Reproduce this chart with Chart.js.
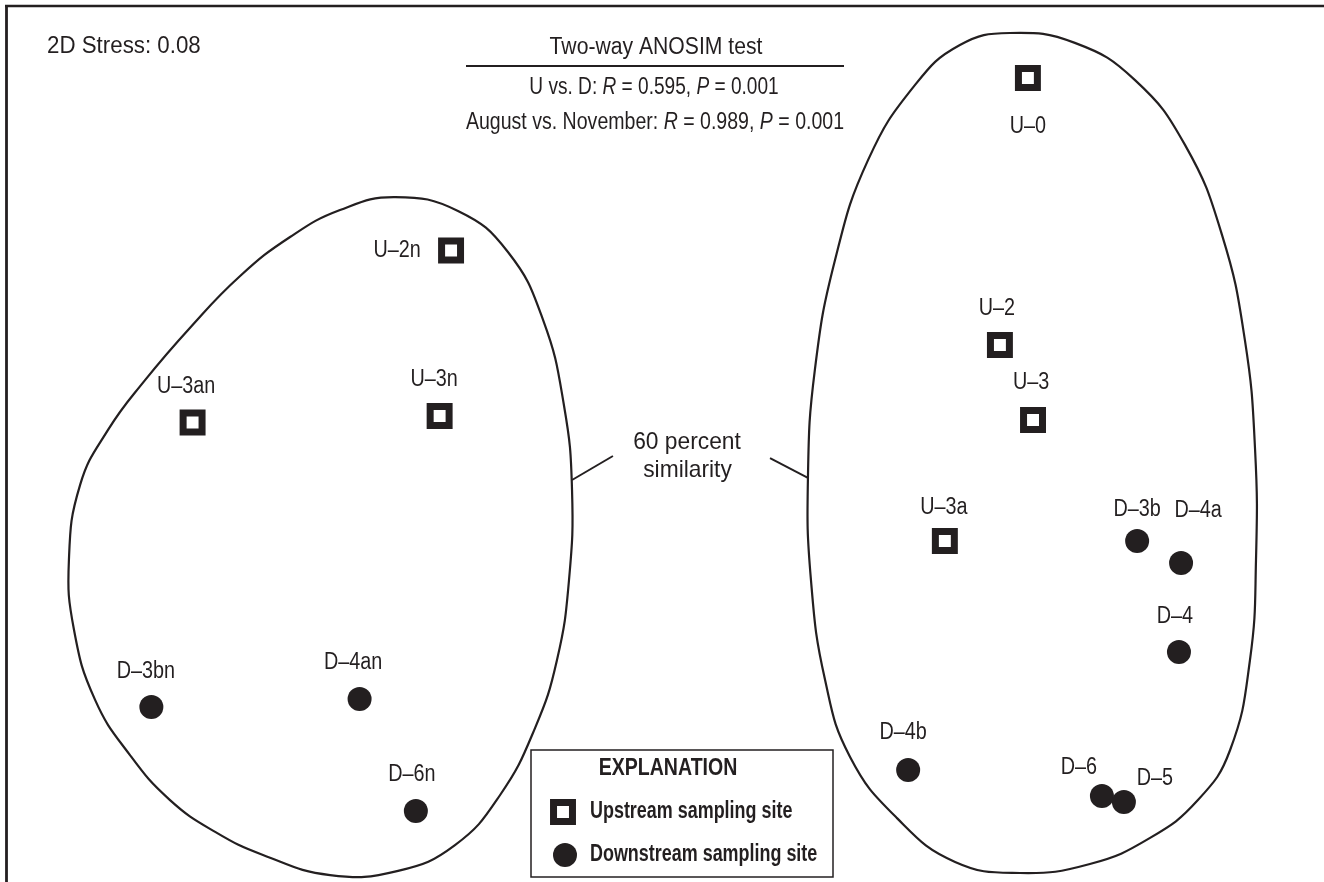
<!DOCTYPE html>
<html>
<head>
<meta charset="utf-8">
<script src="https://cdn.jsdelivr.net/npm/chart.js@4/dist/chart.umd.min.js"></script>
<style>
  html, body { margin: 0; padding: 0; background: #fff; }
  canvas { display: block; }
</style>
</head>
<body>
<canvas id="nmds" width="1324" height="882"></canvas>
<script>
// NMDS ordination of sampling sites (unitless axes)
const upstreamSites = ['U–0', 'U–2', 'U–3', 'U–3a', 'U–2n', 'U–3n', 'U–3an'];
const upstreamX = [1.216, 1.123, 1.233, 0.940, -0.701, -0.739, -1.560];
const upstreamY = [1.210, 0.320, 0.070, -0.333, 0.635, 0.083, 0.062];

const downstreamSites = ['D–3b', 'D–4a', 'D–4', 'D–4b', 'D–6', 'D–5', 'D–3bn', 'D–4an', 'D–6n'];
const downstreamX = [1.579, 1.725, 1.718, 0.818, 1.462, 1.535, -1.697, -1.005, -0.818];
const downstreamY = [-0.333, -0.407, -0.703, -1.097, -1.183, -1.203, -0.887, -0.860, -1.233];

// 60 percent similarity contours (November group, August group)
const novemberHullX = [-0.887, -0.678, -0.512, -0.395, -0.326, -0.299, -0.309, -0.349, -0.422, -0.538, -0.688, -0.877, -1.103, -1.326, -1.485, -1.635, -1.768, -1.884, -1.954, -1.971, -1.934, -1.841, -1.718, -1.569, -1.402, -1.236, -1.070];
const novemberHullY = [0.813, 0.767, 0.630, 0.403, 0.120, -0.163, -0.463, -0.730, -0.957, -1.180, -1.347, -1.433, -1.447, -1.380, -1.303, -1.197, -1.047, -0.863, -0.630, -0.397, -0.147, 0.037, 0.203, 0.377, 0.550, 0.680, 0.770];
const augustHullX = [1.156, 1.372, 1.572, 1.738, 1.861, 1.937, 1.971, 1.974, 1.954, 1.888, 1.781, 1.622, 1.422, 1.190, 0.974, 0.781, 0.625, 0.542, 0.495, 0.485, 0.508, 0.575, 0.685, 0.841, 0.990];
const augustHullY = [1.360, 1.327, 1.203, 0.987, 0.687, 0.337, -0.030, -0.397, -0.730, -1.030, -1.197, -1.323, -1.410, -1.440, -1.403, -1.257, -1.053, -0.797, -0.463, -0.123, 0.237, 0.603, 0.937, 1.187, 1.320];

// leader lines from the "60 percent similarity" note to each contour
const leaderLeftX = [-0.299, -0.163];
const leaderLeftY = [-0.130, -0.050];
const leaderRightX = [0.359, 0.485];
const leaderRightY = [-0.057, -0.123];

const INK = '#231f20';
const FONT = '"Liberation Sans", Arial, sans-serif';

// label placement around each marker, in pixels
const labelPlacement = {
  'U–0': [0, 49], 'U–2': [-3, -36], 'U–3': [-2, -37], 'U–3a': [-1, -33],
  'U–2n': [-54, 0], 'U–3n': [-5.5, -36], 'U–3an': [-6.5, -36],
  'D–3b': [0, -31], 'D–4a': [17, -52], 'D–4': [-4, -35], 'D–4b': [-5, -37],
  'D–6': [-23, -28], 'D–5': [31, -23], 'D–3bn': [-5.5, -35], 'D–4an': [-6.5, -36], 'D–6n': [-4, -36]
};

const zip = (xs, ys) => xs.map((x, i) => ({ x, y: ys[i] }));

// draws a line of text made of styled runs, horizontally condensed by sx
function drawRuns(ctx, runs, x, y, size, sx, align) {
  ctx.save();
  const widths = runs.map(([t, st]) => {
    ctx.font = `${st}${size}px ${FONT}`;
    return ctx.measureText(t).width;
  });
  const total = widths.reduce((a, b) => a + b, 0);
  ctx.translate(x, y);
  ctx.scale(sx, 1);
  let cx = align === 'left' ? 0 : -total / 2;
  ctx.textAlign = 'left';
  ctx.textBaseline = 'middle';
  ctx.fillStyle = INK;
  runs.forEach(([t, st], i) => {
    ctx.font = `${st}${size}px ${FONT}`;
    ctx.fillText(t, cx, 0);
    cx += widths[i];
  });
  ctx.restore();
}

function strokeLine(ctx, x1, y1, x2, y2, w) {
  ctx.save();
  ctx.strokeStyle = INK;
  ctx.lineWidth = w;
  ctx.beginPath();
  ctx.moveTo(x1, y1);
  ctx.lineTo(x2, y2);
  ctx.stroke();
  ctx.restore();
}

// turns the contour datasets into smooth closed loops
const closedOutline = {
  id: 'closedOutline',
  afterDatasetsUpdate(chart) {
    chart.data.datasets.forEach((ds, i) => {
      if (!ds.closedLoop) return;
      const line = chart.getDatasetMeta(i).dataset;
      if (!line) return;
      line._loop = true;
      line._fullLoop = true;
      line.points = line.points;
      line.updateControlPoints(chart.chartArea, 'x');
    });
  }
};

const pageDecor = {
  id: 'pageDecor',
  beforeDraw(chart) {
    const ctx = chart.ctx;
    ctx.save();
    ctx.fillStyle = '#fff';
    ctx.fillRect(0, 0, chart.width, chart.height);
    ctx.restore();
    // frame
    strokeLine(ctx, 5, 6, chart.width, 6, 2.6);
    strokeLine(ctx, 6.5, 5, 6.5, chart.height, 2.8);
  },
  afterDatasetsDraw(chart) {
    const ctx = chart.ctx;
    // site labels
    chart.data.datasets.forEach((ds, i) => {
      if (!ds.siteNames) return;
      chart.getDatasetMeta(i).data.forEach((el, j) => {
        const name = ds.siteNames[j];
        const [dx, dy] = labelPlacement[name] || [0, -34];
        drawRuns(ctx, [[name, '']], el.x + dx, el.y + dy, 23, 0.86, 'center');
      });
    });

    drawRuns(ctx, [['2D Stress: 0.08', '']], 47, 47, 23, 0.97, 'left');

    drawRuns(ctx, [['Two-way ANOSIM test', '']], 656, 48, 23, 0.92, 'center');
    strokeLine(ctx, 466, 66, 844, 66, 2);
    drawRuns(ctx, [['U vs. D: ', ''], ['R', 'italic '], [' = 0.595, ', ''], ['P', 'italic '], [' = 0.001', '']],
      654, 88, 23, 0.83, 'center');
    drawRuns(ctx, [['August vs. November: ', ''], ['R', 'italic '], [' = 0.989, ', ''], ['P', 'italic '], [' = 0.001', '']],
      655, 123, 23, 0.85, 'center');

    drawRuns(ctx, [['60 percent', '']], 687, 442, 24, 0.95, 'center');
    drawRuns(ctx, [['similarity', '']], 687.5, 470, 24, 0.95, 'center');

    // explanation box
    ctx.save();
    ctx.strokeStyle = INK;
    ctx.lineWidth = 1.5;
    ctx.fillStyle = '#fff';
    ctx.fillRect(531, 750, 302, 127);
    ctx.strokeRect(531, 750, 302, 127);
    ctx.restore();
    drawRuns(ctx, [['EXPLANATION', 'bold ']], 668, 769, 23, 0.85, 'center');

    const up = chart.data.datasets[0];
    const down = chart.data.datasets[1];
    ctx.save();
    ctx.fillStyle = up.pointBackgroundColor;
    ctx.strokeStyle = up.pointBorderColor;
    ctx.lineWidth = up.pointBorderWidth;
    Chart.helpers.drawPoint(ctx, { pointStyle: 'rect', radius: up.pointRadius, rotation: 0, borderWidth: up.pointBorderWidth }, 563, 812);
    ctx.fillStyle = down.pointBackgroundColor;
    ctx.lineWidth = 0;
    Chart.helpers.drawPoint(ctx, { pointStyle: 'circle', radius: down.pointRadius, rotation: 0, borderWidth: 0 }, 565, 855);
    ctx.restore();
    drawRuns(ctx, [['Upstream sampling site', 'bold ']], 590, 812, 23, 0.78, 'left');
    drawRuns(ctx, [['Downstream sampling site', 'bold ']], 590, 855, 23, 0.78, 'left');
  }
};

const outlineStyle = {
  showLine: true, pointRadius: 0, borderColor: INK, borderWidth: 2.2,
  fill: false, spanGaps: true, tension: 0.45
};

new Chart(document.getElementById('nmds'), {
  type: 'scatter',
  data: {
    datasets: [
      {
        label: 'Upstream sampling site',
        siteNames: upstreamSites,
        data: zip(upstreamX, upstreamY),
        pointStyle: 'rect',
        pointRadius: 13.4,
        pointBorderWidth: 7,
        pointBackgroundColor: '#ffffff',
        pointBorderColor: INK,
        order: 0
      },
      {
        label: 'Downstream sampling site',
        siteNames: downstreamSites,
        data: zip(downstreamX, downstreamY),
        pointStyle: 'circle',
        pointRadius: 12,
        pointBorderWidth: 0,
        pointBackgroundColor: INK,
        pointBorderColor: INK,
        order: 1
      },
      Object.assign({ label: 'November', closedLoop: true, data: zip(novemberHullX, novemberHullY), order: 5 }, outlineStyle),
      Object.assign({ label: 'August', closedLoop: true, data: zip(augustHullX, augustHullY), order: 5 }, outlineStyle),
      { label: 'leader', data: zip(leaderLeftX, leaderLeftY), showLine: true, tension: 0, pointRadius: 0, borderColor: INK, borderWidth: 2, order: 6 },
      { label: 'leader', data: zip(leaderRightX, leaderRightY), showLine: true, tension: 0, pointRadius: 0, borderColor: INK, borderWidth: 2, order: 6 }
    ]
  },
  options: {
    responsive: false,
    animation: false,
    events: [],
    layout: { padding: 0, autoPadding: false },
    scales: {
      x: { type: 'linear', display: false, min: -2.2, max: 2.2 },
      y: { type: 'linear', display: false, min: -1.47, max: 1.47 }
    },
    plugins: {
      legend: { display: false },
      tooltip: { enabled: false }
    }
  },
  plugins: [closedOutline, pageDecor]
});
</script>
</body>
</html>
